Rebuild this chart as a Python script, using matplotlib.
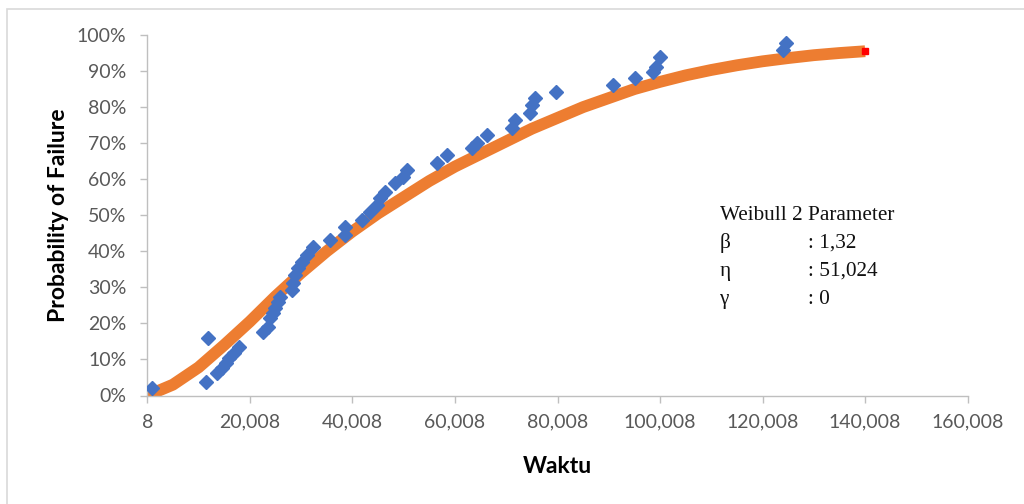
import matplotlib
matplotlib.use("Agg")
import matplotlib.pyplot as plt
from matplotlib.patches import Rectangle
from matplotlib.ticker import FuncFormatter, FixedLocator

# data
waktu_obs = [880, 11380, 11900, 13530, 14510, 15350, 15990, 16910, 17880,
             22620, 23600, 23930, 24580, 24900, 25550, 25880, 28160, 28470,
             28800, 29450, 30100, 31080, 32380, 35630, 38550, 38550, 41800,
             43420, 44720, 45370, 46350, 48300, 49920, 50570, 56420, 58370,
             63250, 64220, 66170, 71040, 71690, 74610, 74940, 75580, 79680,
             90840, 95080, 98650, 99300, 99950, 124000, 124650]
pf_obs = [2.0, 3.8, 15.9, 6.2, 7.5, 8.9, 10.3, 11.7, 13.5,
          17.7, 19.1, 21.4, 22.8, 24.2, 26.0, 27.4, 29.3, 31.1,
          33.4, 35.3, 37.1, 39.0, 41.3, 43.1, 44.5, 46.8, 48.7,
          51.0, 52.8, 54.7, 56.5, 58.9, 60.7, 62.6, 64.4, 66.7,
          68.6, 70.0, 72.3, 74.1, 76.4, 78.3, 80.6, 82.4, 84.1,
          86.1, 88.0, 89.8, 91.2, 94.0, 95.8, 97.7]

waktu_fit = [8, 5000, 10000, 15000, 20000, 25000, 30000, 35000, 40000,
             45000, 50000, 55000, 60000, 65000, 70000, 75000, 80000, 85000,
             90000, 95000, 100000, 105000, 110000, 115000, 120000, 125000,
             130000, 135000, 140008]
pf_fit = [0.0, 3.0, 7.8, 14.0, 20.5, 27.5, 34.0, 40.0, 45.5,
          50.5, 55.0, 59.5, 63.5, 67.0, 70.5, 74.0, 77.0, 80.0,
          82.5, 85.0, 87.0, 88.8, 90.3, 91.6, 92.7, 93.6,
          94.4, 95.0, 95.5]

x_ticks = [8, 20008, 40008, 60008, 80008, 100008, 120008, 140008, 160008]
y_ticks = [0, 10, 20, 30, 40, 50, 60, 70, 80, 90, 100]

fig = plt.figure(figsize=(10.24, 5.04), dpi=100)
ax = fig.add_axes([147.3 / 1024, 1 - 395.5 / 504, 820.4 / 1024, 360.5 / 504])

# outer chart border
fig.patches.append(Rectangle((7 / 1024, -0.01), 1.02, 1 - 9 / 504 + 0.01,
                             transform=fig.transFigure, fill=False,
                             edgecolor='#d9d9d9', linewidth=1.2))

ax.plot(waktu_fit, pf_fit, color='#ED7D31', linewidth=8.5,
        solid_capstyle='butt', zorder=2)
ax.plot(waktu_fit[-1:], pf_fit[-1:], marker='s', color='#FF0000',
        markersize=5, linestyle='none', zorder=3)
ax.plot(waktu_obs, pf_obs, marker='D', color='#4472C4', markersize=7.5,
        linestyle='none', zorder=4)

ax.set_xlim(8, 160008)
ax.set_ylim(0, 100)
ax.xaxis.set_major_locator(FixedLocator(x_ticks))
ax.yaxis.set_major_locator(FixedLocator(y_ticks))
ax.xaxis.set_major_formatter(FuncFormatter(lambda v, p: f"{int(round(v)):,}"))
ax.yaxis.set_major_formatter(FuncFormatter(lambda v, p: f"{int(round(v))}%"))

for s in ['top', 'right']:
    ax.spines[s].set_visible(False)
for s in ['left', 'bottom']:
    ax.spines[s].set_color('#bfbfbf')
    ax.spines[s].set_linewidth(1.0)
ax.tick_params(axis='both', direction='out', length=5, width=1.0,
               color='#bfbfbf', labelcolor='#595959', labelsize=14)
ax.tick_params(axis='y', pad=10)
ax.tick_params(axis='x', pad=8)
for lab in ax.get_xticklabels() + ax.get_yticklabels():
    lab.set_family('Lato')

ax.set_xlabel('Waktu', fontsize=16.5, fontweight='bold', family='Lato',
              labelpad=18)
ax.set_ylabel('Probability of Failure', fontsize=16.5, fontweight='bold',
              family='Lato', labelpad=6)

# parameter box
serif = 'Liberation Serif'
fs = 15.3
ax.text(0.698, 0.50, 'Weibull 2 Parameter', transform=ax.transAxes,
        fontsize=fs, family=serif, va='center', color='#111111')
params = [('β', ': 1,32'), ('η', ': 51,024'), ('γ', ': 0')]
for i, (sym, val) in enumerate(params):
    y = 0.423 - i * 0.0777
    ax.text(0.698, y, sym, transform=ax.transAxes, fontsize=fs,
            family=serif, va='center', color='#111111')
    ax.text(0.805, y, val, transform=ax.transAxes, fontsize=fs,
            family=serif, va='center', color='#111111')

fig.savefig('out.png', dpi=100)
